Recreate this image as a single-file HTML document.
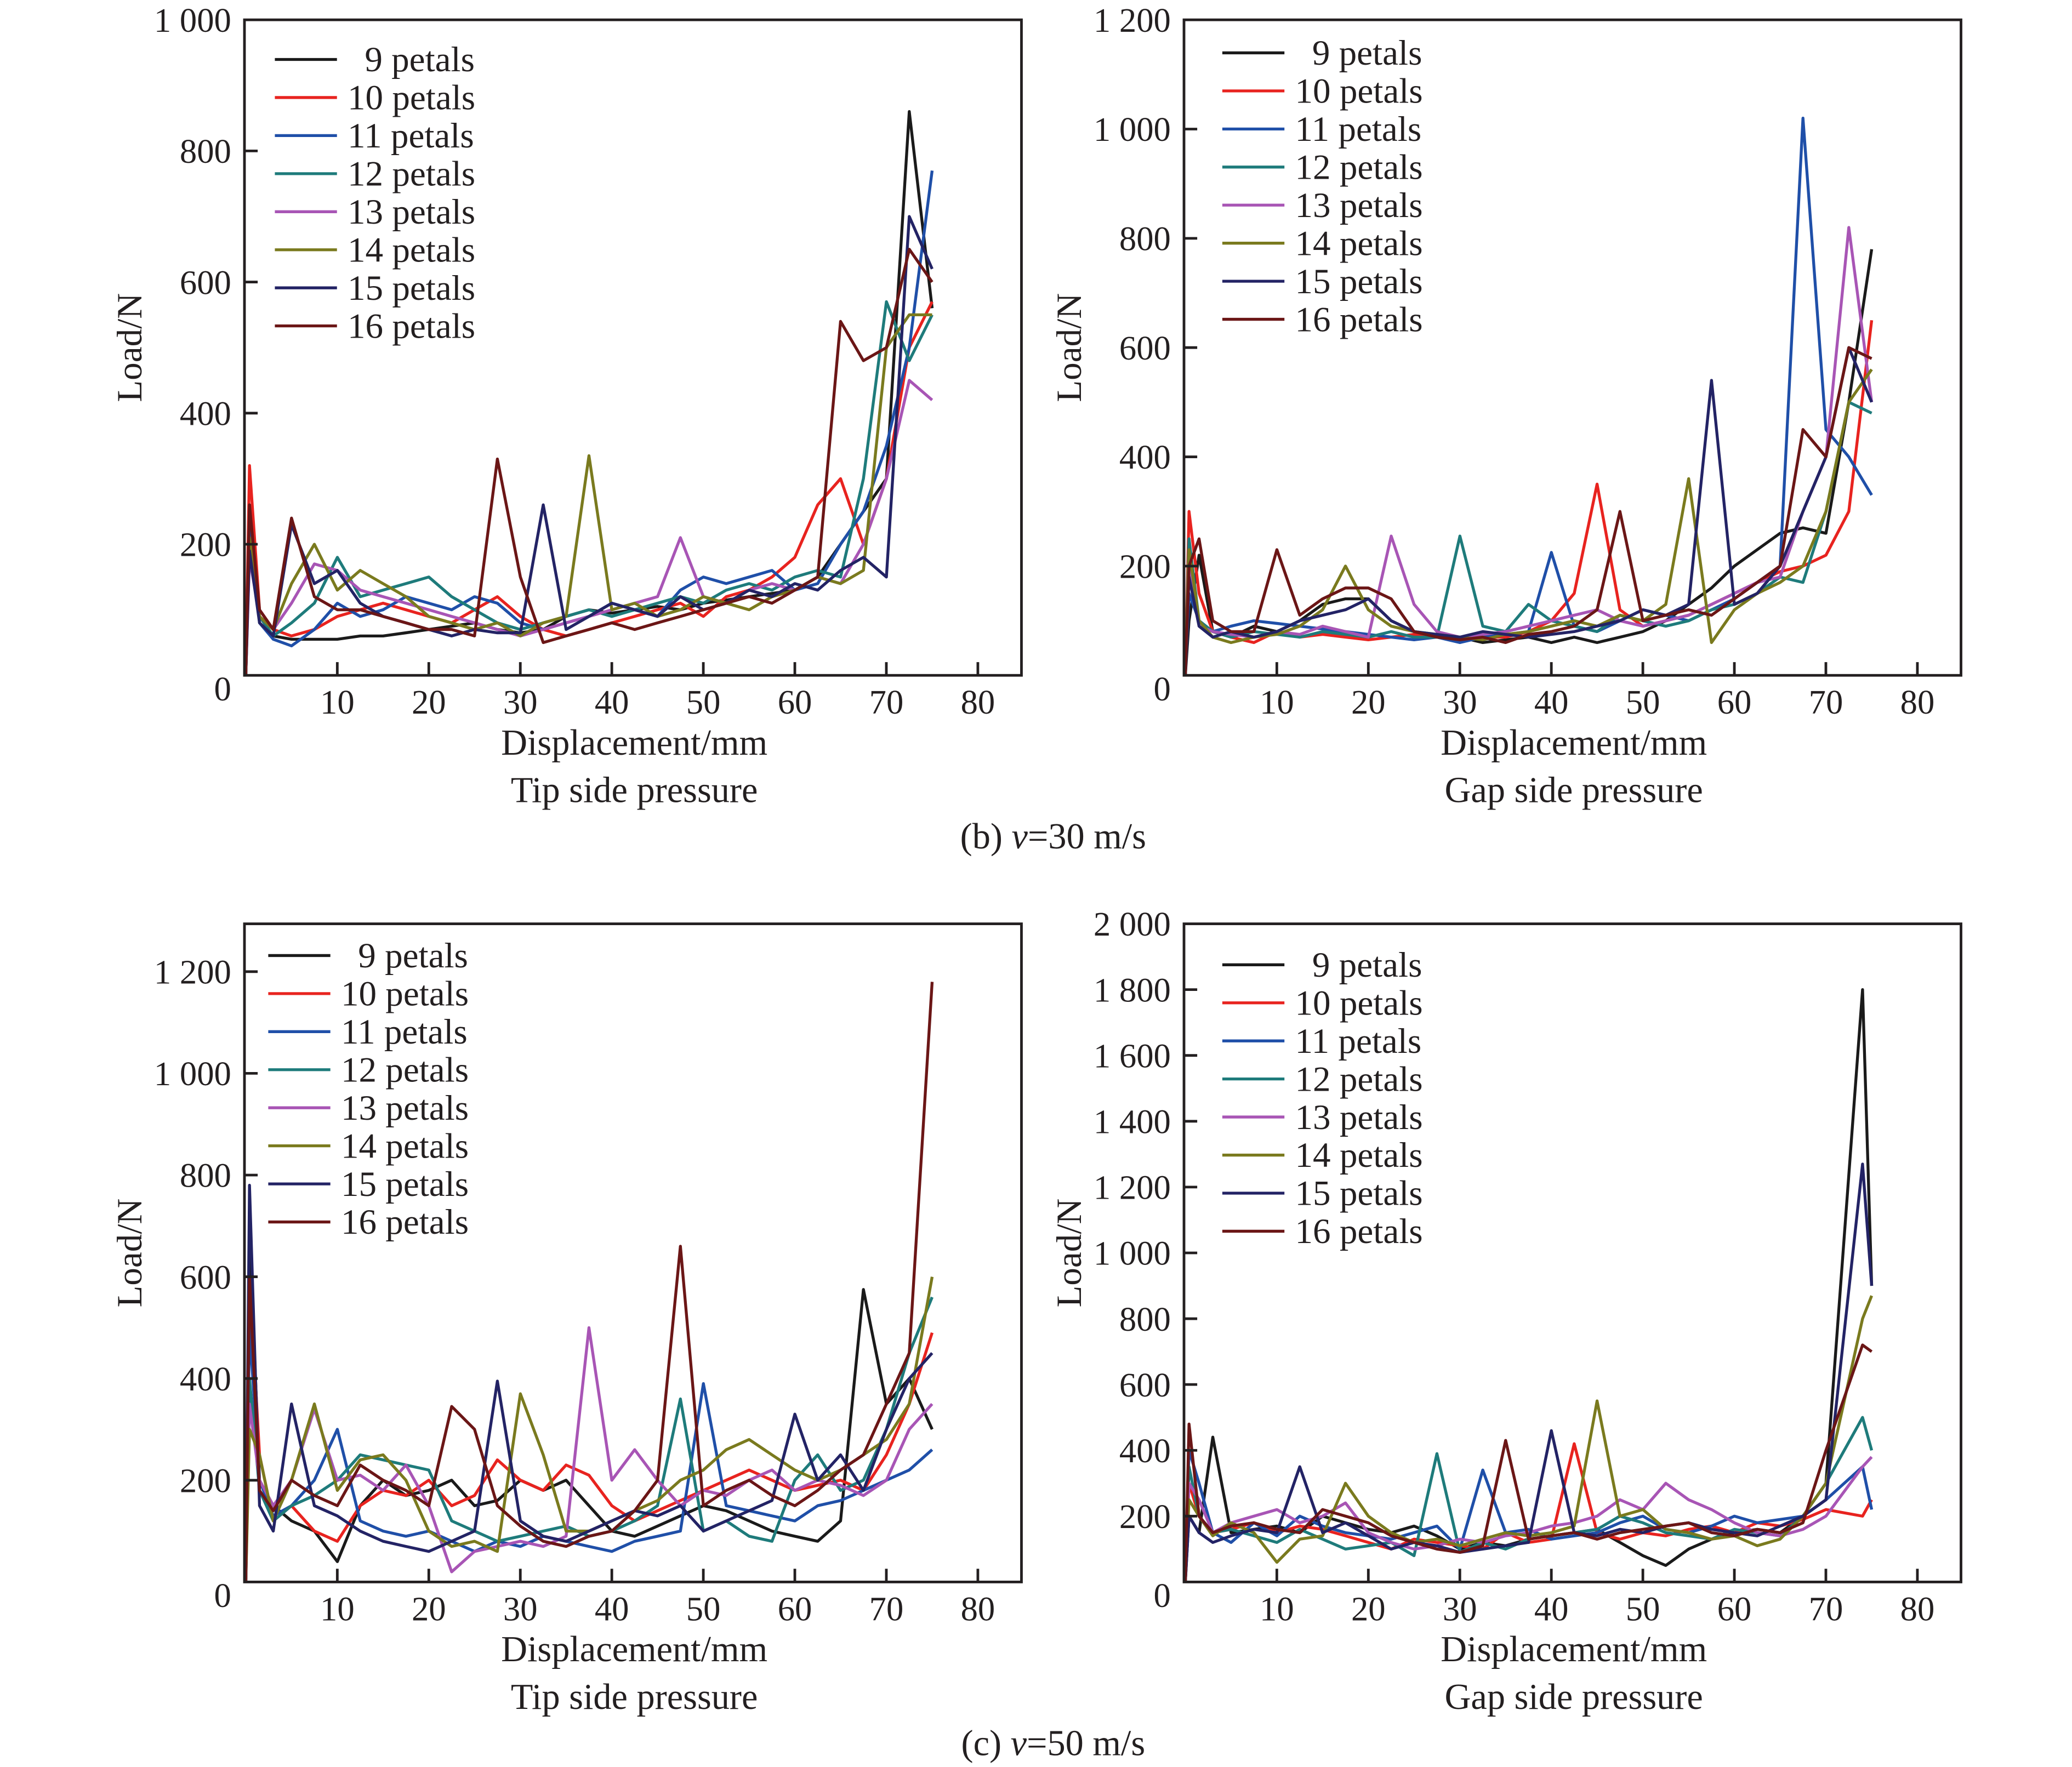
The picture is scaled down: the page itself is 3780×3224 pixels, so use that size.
<!DOCTYPE html>
<html><head><meta charset="utf-8"><style>
html,body{margin:0;padding:0;background:#fff;}
svg{display:block;}
text{font-family:"Liberation Serif",serif;fill:#231f20;}
</style></head><body>
<svg id="fig" width="3780" height="3224" viewBox="0 0 1568 1337" preserveAspectRatio="none" xmlns="http://www.w3.org/2000/svg">
<text x="797" y="642" font-size="27.5" text-anchor="middle">(b) <tspan font-style="italic">v</tspan>=30 m/s</text>
<text x="797" y="1328" font-size="27.5" text-anchor="middle">(c) <tspan font-style="italic">v</tspan>=50 m/s</text>
</svg>
<script>
const names = ["9 petals","10 petals","11 petals","12 petals","13 petals","14 petals","15 petals","16 petals"];
const colors = ["#1a1a1a","#e8231f","#1f4fa8","#1e7b7b","#a855b5","#7a7a1e","#232365","#6b1616"];
const xGrid = [0,0.4,1.5,3,5,7.5,10,12.5,15,17.5,20,22.5,25,27.5,30,32.5,35,37.5,40,42.5,45,47.5,50,52.5,55,57.5,60,62.5,65,67.5,70,72.5,75];
const xGridD = [0,0.4,1.5,3,5,7.5,10,12.5,15,17.5,20,22.5,25,27.5,30,32.5,35,37.5,40,42.5,45,47.5,50,52.5,55,57.5,60,62.5,65,67.5,70,74,75];
const xTicks = [10,20,30,40,50,60,70,80];
// Panel b-tip
const a9 = [0,250,90,60,55,55,55,60,60,65,70,75,80,70,65,70,90,100,95,100,105,100,110,115,120,125,130,150,200,250,300,860,560];
const a10 = [0,320,100,70,60,70,90,100,110,100,90,80,100,120,90,70,60,70,80,90,100,110,90,120,130,150,180,260,300,200,300,500,570];
const a11 = [0,220,80,55,45,70,110,90,100,120,110,100,120,110,80,70,80,90,110,100,90,130,150,140,150,160,130,140,200,250,350,500,770];
const a12 = [0,200,90,60,80,110,180,120,130,140,150,120,100,80,70,80,90,100,90,100,110,120,110,130,140,130,150,160,150,300,570,480,550];
const a13 = [0,180,90,70,110,170,160,130,120,110,100,90,80,70,60,70,80,90,100,110,120,210,120,110,130,140,130,150,140,200,300,450,420];
const a14 = [0,210,90,70,140,200,130,160,140,120,90,80,70,80,60,80,90,335,100,110,90,100,120,110,100,120,130,150,140,160,500,550,550];
const a15 = [0,190,80,60,230,140,160,110,90,80,70,60,70,65,65,260,70,90,110,100,90,120,100,110,130,120,140,130,160,180,150,700,620];
const a16 = [0,260,100,70,240,120,100,100,90,80,70,70,60,330,150,50,60,70,80,70,80,90,100,110,120,110,130,150,540,480,500,650,600];
// Panel b-gap
const b9 = [0,100,220,80,70,90,80,100,130,140,140,100,80,70,70,60,65,70,60,70,60,70,80,100,130,160,200,230,260,270,260,500,780];
const b10 = [0,300,150,80,70,60,80,70,75,70,65,70,75,70,65,70,70,80,100,150,350,120,90,100,110,130,150,170,190,200,220,300,650];
const b11 = [0,150,100,80,90,100,95,90,85,80,75,70,65,70,60,70,75,80,225,90,80,100,120,110,100,120,140,170,200,1020,450,400,330];
const b12 = [0,250,100,80,70,80,75,70,80,75,70,80,70,70,255,90,80,130,100,90,80,110,100,90,100,120,130,150,180,170,300,500,480];
const b13 = [0,200,90,80,75,70,80,75,90,80,70,255,130,80,70,75,80,90,100,110,120,100,90,100,110,130,150,170,180,300,400,820,500];
const b14 = [0,230,100,70,60,70,75,90,120,200,120,90,80,75,70,65,75,80,90,100,90,110,100,130,360,60,120,150,170,200,300,500,560];
const b15 = [0,180,90,70,80,70,80,100,110,120,140,100,80,75,70,80,75,70,75,80,90,100,120,110,130,540,130,150,200,300,400,600,500];
const b16 = [0,200,250,100,80,80,230,110,140,160,160,140,80,70,65,70,60,75,80,90,120,300,100,110,120,110,140,170,200,450,400,600,580];
// Panel c-tip
const c9 = [0,700,200,150,120,100,40,150,200,170,180,200,150,160,200,180,200,150,100,90,110,130,150,140,120,100,90,80,120,575,350,400,300];
const c10 = [0,600,250,120,150,100,80,150,180,170,200,150,170,240,200,180,230,210,150,120,140,160,180,200,220,200,180,190,200,180,250,350,490];
const c11 = [0,500,200,130,150,200,300,120,100,90,100,80,60,80,70,90,80,70,60,80,90,100,390,150,140,130,120,150,160,180,200,220,260];
const c12 = [0,400,180,120,150,170,200,250,240,230,220,120,100,80,90,100,110,90,100,120,150,360,100,120,90,80,200,250,180,200,300,450,560];
const c13 = [0,350,200,150,200,340,200,210,180,230,150,20,60,70,80,70,90,500,200,260,200,150,180,170,200,220,180,200,190,170,200,300,350];
const c14 = [0,300,250,120,200,350,180,240,250,200,100,70,80,60,370,250,100,100,120,140,160,200,220,260,280,250,220,200,220,250,280,350,600];
const c15 = [0,780,150,100,350,150,130,100,80,70,60,80,100,395,120,90,80,100,120,140,130,150,100,120,140,160,330,200,250,180,300,400,450];
const c16 = [0,600,180,140,200,170,150,230,200,180,150,345,300,150,110,80,70,90,100,140,200,660,150,180,200,170,150,180,220,250,350,450,1180];
// Panel c-gap
const d9 = [0,200,150,440,150,160,170,150,200,180,160,150,170,140,100,120,110,130,140,150,160,120,80,50,100,130,150,160,150,200,300,1800,900];
const d10 = [0,300,200,150,160,180,150,170,160,140,120,100,130,120,110,100,150,120,130,420,150,130,150,140,160,170,150,180,170,190,220,200,250];
const d11 = [0,400,300,150,120,180,140,200,170,150,140,130,150,170,100,340,150,160,130,140,150,180,200,160,150,170,200,180,190,200,250,350,220];
const d12 = [0,350,200,150,160,140,120,160,130,100,110,120,80,390,90,120,100,130,140,150,160,200,180,150,140,130,160,150,140,200,300,500,400];
const d13 = [0,300,250,150,180,200,220,180,200,240,150,120,100,110,130,120,140,150,170,180,200,250,220,300,250,220,180,150,140,160,200,350,380];
const d14 = [0,250,200,140,180,150,60,130,140,300,200,150,120,130,110,130,150,140,150,170,550,200,220,160,150,130,140,110,130,200,300,800,870];
const d15 = [0,200,150,120,140,160,150,350,150,180,140,100,120,110,90,100,110,120,460,150,140,160,150,170,180,160,150,140,170,200,250,1270,900];
const d16 = [0,480,200,150,170,180,160,150,220,200,180,140,120,100,90,110,430,130,140,150,130,150,160,170,180,150,140,160,150,180,400,720,700];
const yTicksA = [0,200,400,600,800,1000];
const yTicksB = [0,200,400,600,800,1000,1200];
const yTicksC = [0,200,400,600,800,1000,1200];
const yTicksD = [0,200,400,600,800,1000,1200,1400,1600,2000,1800];

const NS = "http://www.w3.org/2000/svg";
const svg = document.getElementById("fig");
function mk(tag, attrs, parent){const e=document.createElementNS(NS,tag);for(const k in attrs)e.setAttribute(k,attrs[k]);(parent||svg).appendChild(e);return e;}
function fmt(v){const s=String(v);return s.length>3?s.slice(0,s.length-3)+" "+s.slice(-3):s;}

function panel(id, L, T, R, B, yMax, yTicks, xs, series, legX, legY, sub){
  const g = mk("g",{});
  
  
  const sx = v => L + 1 + (v/80)*(740-186)*(R-L)/(773-185);
  const sy = v => B - v/yMax*(B-T);
  const clip = mk("clipPath",{id:"clip-"+id},g);
  mk("rect",{x:L,y:T,width:R-L,height:B-T},clip);
  const sg = mk("g",{"clip-path":"url(#clip-"+id+")"},g);
  series.forEach((vals,i)=>{
    const pts = vals.map((v,j)=>sx(xs[j]).toFixed(1)+","+sy(v).toFixed(1)).join(" ");
    const pl = mk("polyline",{points:pts,fill:"none",stroke:colors[i],"stroke-width":2.2,"stroke-linejoin":"round"},sg);
    
    
  });
  const frame = mk("rect",{x:L,y:T,width:R-L,height:B-T,fill:"none",stroke:"#231f20","stroke-width":2},g);
  
  
  xTicks.forEach(t=>{
    const x = sx(t);
    mk("line",{x1:x,x2:x,y1:B,y2:B-10,stroke:"#231f20","stroke-width":2},g);
    const tx = mk("text",{x:x,y:B+29,"font-size":26,"text-anchor":"middle"},g);
    tx.textContent = t;
    
    
  });
  yTicks.forEach(t=>{
    const y = sy(t);
    if(t>0 && t<yMax) mk("line",{x1:L,x2:L+10,y1:y,y2:y,stroke:"#231f20","stroke-width":2},g);
    const ty = mk("text",{x:L-10,y:(t===0?y+19:y+9),"font-size":26,"text-anchor":"end"},g);
    ty.textContent = fmt(t);
    
    
  });
  const cx = (L+R)/2 + 1;
  const xt = mk("text",{x:cx,y:B+60,"font-size":27.5,"text-anchor":"middle"},g);
  xt.textContent = "Displacement/mm";
  
  
  const st = mk("text",{x:cx,y:B+96,"font-size":27.5,"text-anchor":"middle"},g);
  st.textContent = sub;
  
  
  const yt = mk("text",{x:0,y:0,"font-size":27,"text-anchor":"middle",transform:"translate("+(L-78)+","+((T+B)/2)+") rotate(-90)"},g);
  yt.textContent = "Load/N";
  
  
  names.forEach((n,i)=>{
    const y = legY + i*28.8;
    const le = mk("g",{},g);
    
    
    mk("line",{x1:legX,x2:legX+47,y1:y,y2:y,stroke:colors[i],"stroke-width":2.2},le);
    const lt = mk("text",{x:legX+55+(i===0?13:0),y:y+9,"font-size":27},le);
    lt.textContent = n;
  });
}
panel("panel-b-tip",185,15,773,511,1000,yTicksA,xGrid,[a9,a10,a11,a12,a13,a14,a15,a16],208,45,"Tip side pressure");
panel("panel-b-gap",896,15,1484,511,1200,yTicksB,xGrid,[b9,b10,b11,b12,b13,b14,b15,b16],925,40,"Gap side pressure");
panel("panel-c-tip",185,699,773,1197,1294,yTicksC,xGrid,[c9,c10,c11,c12,c13,c14,c15,c16],203,723,"Tip side pressure");
panel("panel-c-gap",896,699,1484,1197,2000,yTicksD,xGridD,[d9,d10,d11,d12,d13,d14,d15,d16],925,730,"Gap side pressure");
</script>
</body></html>
